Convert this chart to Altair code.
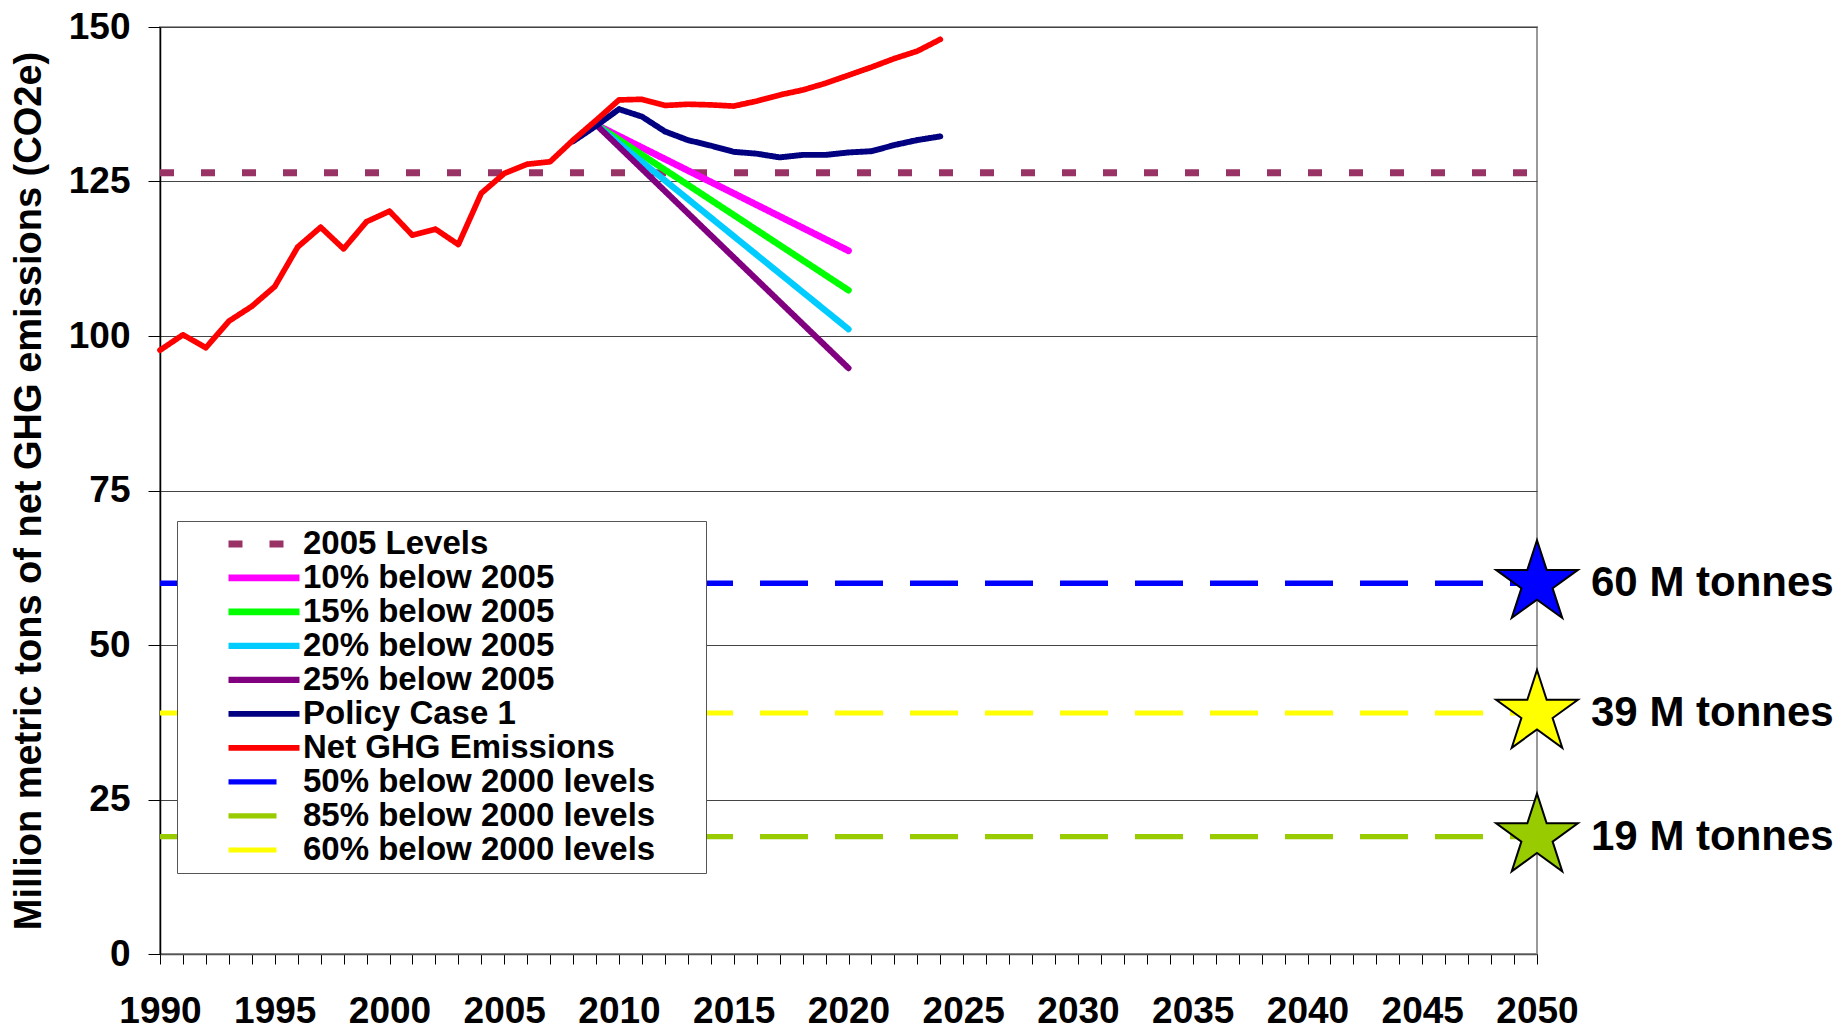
import altair as alt
import pandas as pd

FONT = "Liberation Sans"

# ---- data ----
years_net = list(range(1990, 2025))
net_ghg = [97.7, 100.2, 98.1, 102.4, 104.8, 108.0, 114.4, 117.6, 114.1, 118.5,
           120.2, 116.3, 117.3, 114.8, 123.1, 126.3, 127.8, 128.2, 131.7, 134.9,
           138.2, 138.3, 137.3, 137.5, 137.4, 137.2, 138.0, 139.0, 139.8, 140.9,
           142.2, 143.5, 144.9, 146.1, 148.0]

years_policy = list(range(2008, 2025))
policy_case = [131.5, 134.0, 136.7, 135.5, 133.1, 131.7, 130.8, 129.8, 129.5, 128.9,
               129.3, 129.3, 129.7, 129.9, 130.9, 131.7, 132.3]

reduction_years = [2009, 2020]
reduction_names = ["10% below 2005", "15% below 2005", "20% below 2005", "25% below 2005"]
reduction_start = 134.2
reduction_end = [113.8, 107.4, 101.1, 94.8]

level_2005 = 126.4
span_years = [1990, 2050]
target_names = ["50% below 2000 levels", "85% below 2000 levels", "60% below 2000 levels"]
target_values = [60, 19, 39]

star_year = 2050
star_values = [60, 39, 19]
star_fills = ["#0000FF", "#FFFF00", "#99CC00"]
star_labels = ["60 M tonnes", "39 M tonnes", "19 M tonnes"]

series_order = ["2005 Levels", "10% below 2005", "15% below 2005", "20% below 2005",
                "25% below 2005", "Policy Case 1", "Net GHG Emissions",
                "50% below 2000 levels", "85% below 2000 levels", "60% below 2000 levels"]
series_colors = ["#993366", "#FF00FF", "#00FF00", "#00CCFF", "#800080", "#000080",
                 "#FF0000", "#0000FF", "#99CC00", "#FFFF00"]
series_dash = [[14, 27], [1, 0], [1, 0], [1, 0], [1, 0], [1, 0], [1, 0],
               [48, 27], [48, 27], [48, 27]]
series_width = [7, 5, 5, 5, 4.5, 7, 8.5, 7, 7, 7]

# ---- tables ----
dashed_rows = []
for name, val in zip(target_names, target_values):
    for yr in span_years:
        dashed_rows.append({"series": name, "year": yr, "value": val})
for yr in span_years:
    dashed_rows.append({"series": "2005 Levels", "year": yr, "value": level_2005})
dashed_df = pd.DataFrame(dashed_rows)

solid_rows = []
for name, end in zip(reduction_names, reduction_end):
    solid_rows.append({"series": name, "year": reduction_years[0], "value": reduction_start})
    solid_rows.append({"series": name, "year": reduction_years[1], "value": end})
for yr, v in zip(years_policy, policy_case):
    solid_rows.append({"series": "Policy Case 1", "year": yr, "value": v})
for yr, v in zip(years_net, net_ghg):
    solid_rows.append({"series": "Net GHG Emissions", "year": yr, "value": v})
solid_df = pd.DataFrame(solid_rows)

star_df = pd.DataFrame({"year": [star_year] * 3, "value": star_values,
                        "fill": star_fills, "label": star_labels})

# ---- encodings ----
x_enc = alt.X("year:Q",
              scale=alt.Scale(domain=[1990, 2050], nice=False, zero=False),
              axis=alt.Axis(values=list(range(1990, 2051)), format="d",
                            labelExpr="datum.value % 5 == 0 ? datum.label : ''",
                            grid=False, tickSize=10, tickColor="#000000",
                            domainColor="#555555", domainWidth=1.5,
                            labelFontSize=37, labelFontWeight="bold", labelColor="#000000",
                            labelPadding=29, labelOverlap=False, labelFlush=False,
                            title=None))
y_enc = alt.Y("value:Q",
              scale=alt.Scale(domain=[0, 150], nice=False),
              axis=alt.Axis(values=[0, 25, 50, 75, 100, 125, 150], grid=True,
                            gridColor="#444444", gridWidth=1,
                            tickSize=12, tickColor="#000000",
                            domainColor="#000000", domainWidth=1.5,
                            labelFontSize=37, labelFontWeight="bold", labelColor="#000000",
                            labelPadding=18,
                            title="Million metric tons of net GHG emissions (CO2e)",
                            titleFontSize=38, titleFontWeight="bold", titleColor="#000000",
                            titlePadding=20))

legend = alt.Legend(orient="none", legendX=17, legendY=494,
                    title="\u00a0", titleOrient="right", titlePadding=45, titleFontSize=8,
                    fillColor="white", strokeColor="#555555", padding=6,
                    symbolType="stroke", symbolSize=5041, symbolStrokeWidth=6,
                    symbolOffset=42, labelOffset=0,
                    labelFontSize=33, labelFontWeight="bold", labelFont=FONT,
                    labelColor="#000000", labelLimit=700,
                    clipHeight=33.8, rowPadding=0)

color_enc = alt.Color("series:N", scale=alt.Scale(domain=series_order, range=series_colors),
                      legend=legend)
dash_enc = alt.StrokeDash("series:N", scale=alt.Scale(domain=series_order, range=series_dash),
                          legend=legend)
width_enc = alt.StrokeWidth("series:N", scale=alt.Scale(domain=series_order, range=series_width),
                            legend=None)

dashed = alt.Chart(dashed_df).mark_line(strokeCap="butt").encode(
    x=x_enc, y=y_enc, color=color_enc, strokeDash=dash_enc, strokeWidth=width_enc,
    detail="series:N")

solid = alt.Chart(solid_df).mark_line(strokeCap="round", strokeJoin="round").encode(
    x=x_enc, y=y_enc, color=color_enc, strokeDash=dash_enc, strokeWidth=width_enc,
    detail="series:N")

star_path = ("M0,-1 L0.2245,-0.309 L0.9511,-0.309 L0.3633,0.118 L0.5878,0.809 "
             "L0,0.382 L-0.5878,0.809 L-0.3633,0.118 L-0.9511,-0.309 L-0.2245,-0.309 Z")

stars = alt.Chart(star_df).mark_point(shape=star_path, filled=True, size=7396,
                                      stroke="#000000", strokeWidth=2, opacity=1).encode(
    x=x_enc, y=y_enc, fill=alt.Fill("fill:N", scale=None))

texts = alt.Chart(star_df).mark_text(align="left", baseline="middle", dx=54,
                                     fontSize=42, fontWeight="bold", font=FONT,
                                     color="#000000").encode(
    x=x_enc, y=y_enc, text="label:N")

chart = alt.layer(dashed, solid, stars, texts).properties(
    width=1377, height=927,
    padding={"left": 2, "top": 0, "right": 5, "bottom": 0},
    background="white",
).configure(font=FONT).configure_view(stroke="#999999", strokeWidth=2)

chart.save("out.html", embed_options={"renderer": "svg", "actions": False})
